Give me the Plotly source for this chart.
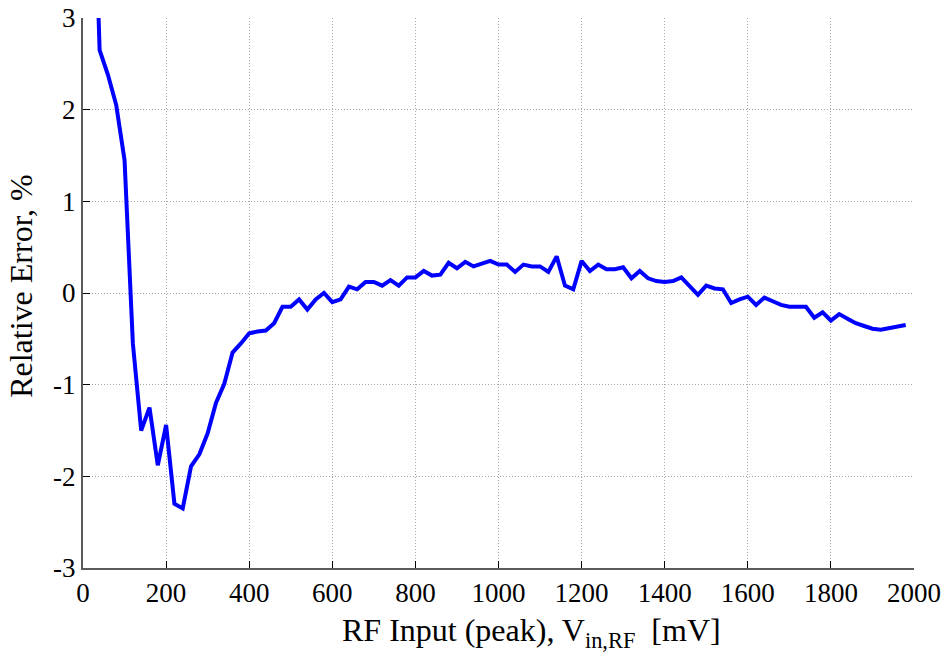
import plotly.graph_objects as go

# RF input amplitude (peak), mV
vin_mv = [20, 40, 60, 80, 100, 120, 140, 160, 180, 200, 220, 240, 260, 280, 300,
          320, 340, 360, 380, 400, 420, 440, 460, 480, 500, 520, 540, 560, 580, 600,
          620, 640, 660, 680, 700, 720, 740, 760, 780, 800, 820, 840, 860, 880, 900,
          920, 940, 960, 980, 1000, 1020, 1040, 1060, 1080, 1100, 1120, 1140, 1160,
          1180, 1200, 1220, 1240, 1260, 1280, 1300, 1320, 1340, 1360, 1380, 1400,
          1420, 1440, 1460, 1480, 1500, 1520, 1540, 1560, 1580, 1600, 1620, 1640,
          1660, 1680, 1700, 1720, 1740, 1760, 1780, 1800, 1820, 1840, 1860, 1880,
          1900, 1920, 1940, 1960, 1980]

# relative error of the detector output, %
rel_err = [5.5, 2.65, 2.38, 2.05, 1.45, -0.55, -1.50, -1.25, -1.88, -1.44, -2.30,
           -2.35, -1.89, -1.76, -1.53, -1.20, -0.99, -0.65, -0.55, -0.44, -0.42,
           -0.41, -0.33, -0.15, -0.15, -0.07, -0.18, -0.07, 0.00, -0.10, -0.07,
           0.07, 0.04, 0.12, 0.12, 0.08, 0.14, 0.08, 0.17, 0.17, 0.24, 0.19, 0.20,
           0.33, 0.27, 0.34, 0.29, 0.32, 0.35, 0.31, 0.31, 0.23, 0.31, 0.29, 0.29,
           0.23, 0.40, 0.08, 0.04, 0.35, 0.24, 0.31, 0.26, 0.26, 0.28, 0.16, 0.24,
           0.16, 0.13, 0.12, 0.13, 0.17, 0.08, -0.02, 0.08, 0.05, 0.04, -0.11,
           -0.07, -0.04, -0.13, -0.05, -0.09, -0.13, -0.15, -0.15, -0.15, -0.27,
           -0.21, -0.30, -0.23, -0.28, -0.33, -0.36, -0.39, -0.40, -0.38, -0.36,
           -0.35]

x_ticks = list(range(0, 2001, 200))
y_ticks = [-3, -2, -1, 0, 1, 2, 3]
y_tick_text = ["-3", "-2", "-1", "0", "1", "2", "3"]

x_title = "RF Input (peak), V<sub>in,RF</sub>  [mV]"
y_title = "Relative Error, %"

FONT = "Liberation Serif"

fig = go.Figure(
    go.Scatter(
        x=vin_mv,
        y=rel_err,
        mode="lines",
        line=dict(color="#0000ff", width=4),
        showlegend=False,
    )
)

axis_common = dict(
    showline=True,
    linecolor="#5a5a5a",
    linewidth=2,
    ticks="inside",
    ticklen=7,
    tickwidth=1,
    tickcolor="#000000",
    showgrid=True,
    gridcolor="#a8a8a8",
    gridwidth=1,
    griddash="1px,2px",
    zeroline=False,
    automargin=False,
    tickfont=dict(family=FONT, size=27, color="#000000"),
)

fig.update_xaxes(range=[0, 2000], tickvals=x_ticks,
                 ticktext=[str(v) for v in x_ticks], **axis_common)
fig.update_yaxes(range=[-3, 3], tickvals=y_ticks, ticktext=y_tick_text,
                 **axis_common)

title_font = dict(family=FONT, size=32, color="#000000")
fig.add_annotation(
    text=x_title, xref="paper", yref="paper", x=0.540, y=-0.118,
    xanchor="center", yanchor="middle", showarrow=False, font=title_font,
)
fig.add_annotation(
    text=y_title, xref="paper", yref="paper", x=-0.0746, y=0.513,
    xanchor="center", yanchor="middle", textangle=-90, showarrow=False,
    font=title_font,
)

fig.update_layout(
    width=946,
    height=660,
    margin=dict(l=83, r=32, t=18, b=92),
    paper_bgcolor="#ffffff",
    plot_bgcolor="#ffffff",
)

fig.write_html("out.html")
